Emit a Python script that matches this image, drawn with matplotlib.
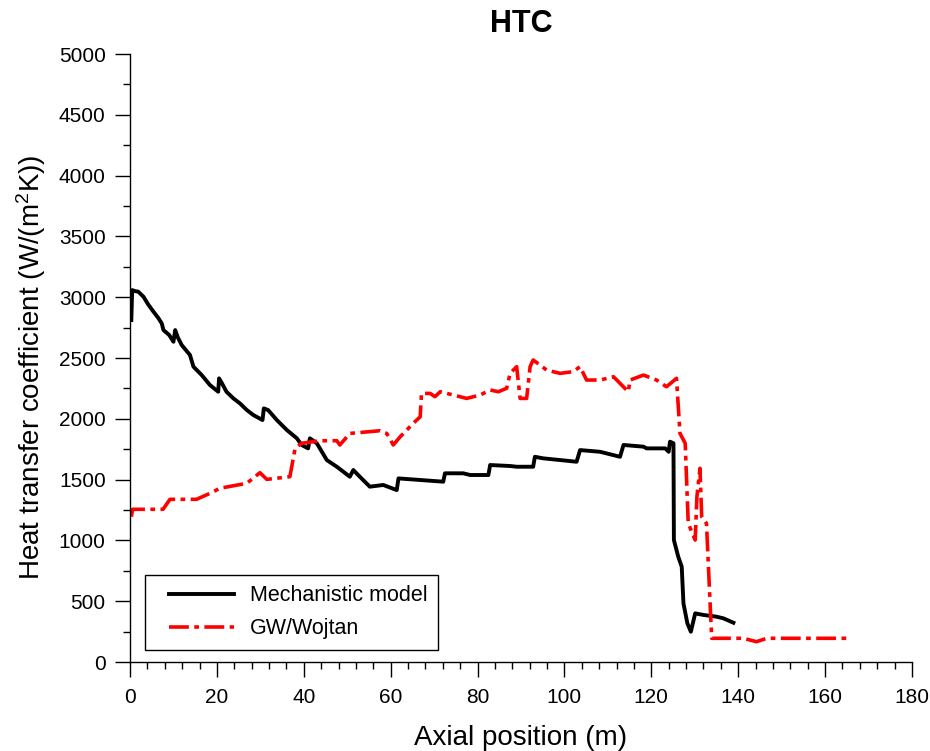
import numpy as np
import matplotlib
matplotlib.use("Agg")
import matplotlib.pyplot as plt
from matplotlib.ticker import MultipleLocator
from matplotlib.legend_handler import HandlerLine2D

plt.rcParams['font.family'] = ['Liberation Sans', 'DejaVu Sans']
plt.rcParams['mathtext.default'] = 'regular'

# Mechanistic model (axial position m, HTC W/m2K)
mech_x = [0.3, 0.5, 1.2, 1.9, 3.1, 4.2, 5.4, 6.5, 7.3, 7.7, 9.0, 10.0, 10.4, 11.0,
          11.9, 13.8, 14.6, 16.5, 18.4, 20.3, 20.5, 21.2, 22.2, 23.8, 25.3, 26.9,
          28.4, 30.5, 30.8, 31.8, 33.8, 36.1, 38.4, 39.5, 41.0, 41.4, 43.0, 45.3,
          47.6, 50.6, 51.4, 52.9, 55.2, 58.3, 61.4, 61.8, 66.8, 72.1, 72.5, 76.7,
          78.3, 82.5, 82.9, 87.5, 89.0, 92.8, 93.2, 95.1, 99.0, 102.8, 103.6, 108.2,
          112.8, 113.6, 118.2, 118.9, 123.2, 124.0, 124.3, 125.1, 125.2, 126.2,
          127.0, 127.4, 128.3, 129.1, 130.1, 132.0, 135.0, 136.6, 138.9]
mech_y = [2812, 3059, 3050, 3046, 3004, 2940, 2881, 2830, 2785, 2730, 2690, 2634, 2730, 2670,
          2607, 2525, 2429, 2360, 2278, 2223, 2333, 2290, 2223, 2168, 2127, 2072,
          2031, 1990, 2086, 2072, 1990, 1908, 1840, 1785, 1757, 1840, 1799, 1661,
          1606, 1524, 1579, 1524, 1442, 1456, 1414, 1510, 1497, 1483, 1552, 1552,
          1538, 1538, 1620, 1612, 1606, 1606, 1688, 1675, 1661, 1647, 1743, 1729,
          1688, 1785, 1771, 1757, 1757, 1729, 1812, 1799, 1003, 866,
          784, 482, 318, 249, 400, 387, 373, 359, 323]

# GW/Wojtan correlation
gw_x = [0.3, 0.6, 7.6, 9.2, 15.3, 18.4, 20.7, 26.9, 29.9, 31.5, 36.8, 38.0, 39.5,
        43.7, 47.6, 48.3, 50.6, 57.5, 59.1, 60.6, 62.2, 65.2, 66.8, 67.1, 69.1, 70.2,
        71.4, 74.4, 77.5, 80.6, 82.9, 84.8, 86.7, 87.5, 89.0, 89.8, 91.3, 92.1, 92.8,
        94.4, 95.9, 99.0, 102.0, 103.6, 105.1, 108.2, 111.3, 114.7, 115.1, 118.2,
        121.2, 123.5, 125.8, 126.6, 127.8, 128.5, 130.1, 130.5, 131.2, 131.6, 132.7,
        133.9, 141.2, 144.2, 146.6, 165.0]
gw_y = [1195, 1256, 1256, 1338, 1338, 1387, 1429, 1470, 1557, 1502, 1524, 1757, 1799,
        1820, 1820, 1785, 1880, 1902, 1880, 1785, 1853, 1963, 2017, 2209, 2209, 2182,
        2223, 2196, 2168, 2196, 2237, 2223, 2251, 2374, 2429, 2168, 2168, 2429, 2484,
        2442, 2401, 2374, 2388, 2429, 2319, 2319, 2346, 2223, 2319, 2360,
        2319, 2264, 2333, 1880, 1799, 1140, 1003, 1360, 1593, 1195, 1140,
        195, 195, 167, 195, 195]


class ShiftedLine(HandlerLine2D):
    # legend line with a wider gap on the left than on the right
    def get_xdata(self, legend, xdescent, ydescent, width, height, fontsize):
        x0 = -xdescent + 0.63 * fontsize
        x1 = -xdescent + width - 0.3 * fontsize
        xdata = np.array([x0, x1])
        return xdata, xdata


fig = plt.figure(figsize=(9.3, 7.51), dpi=100)
ax = fig.add_axes([0.1398, 0.1185, 0.8408, 0.8095])

ax.plot(mech_x, mech_y, color='black', lw=2.8, label='Mechanistic model')
ax.plot(gw_x, gw_y, color='red', lw=2.6, linestyle=(0, (5.5, 1.5, 1.3, 1.5)),
        label='GW/Wojtan')

ax.set_xlim(0, 180)
ax.set_ylim(0, 5000)
ax.xaxis.set_major_locator(MultipleLocator(20))
ax.xaxis.set_minor_locator(MultipleLocator(4))
ax.yaxis.set_major_locator(MultipleLocator(500))
ax.yaxis.set_minor_locator(MultipleLocator(250))

for s in ['top', 'right']:
    ax.spines[s].set_visible(False)
for s in ['left', 'bottom']:
    ax.spines[s].set_linewidth(1.0)

ax.tick_params(which='major', direction='out', length=10.5, width=1.0, labelsize=15, pad=7)
ax.tick_params(which='minor', direction='out', length=5, width=1.0)
ax.tick_params(axis='x', which='major', pad=8)

ax.set_xlabel('Axial position (m)', fontsize=20, labelpad=13)
ax.set_ylabel('Heat transfer coefficient (W/(m$^2$K))', fontsize=20, labelpad=8)
ax.yaxis.label.set_y(0.484)
ax.set_title('HTC', fontsize=22, fontweight='bold', pad=16)

leg = ax.legend(loc='lower left', bbox_to_anchor=(0.019, 0.0197), borderaxespad=0,
                fontsize=15.5, handlelength=3.93, handletextpad=0.45,
                labelspacing=0.55, borderpad=0.5, fancybox=False, framealpha=1,
                handler_map={matplotlib.lines.Line2D: ShiftedLine()})
leg.get_frame().set_edgecolor('black')
leg.get_frame().set_linewidth(1.0)

fig.savefig('out.png', dpi=100)
